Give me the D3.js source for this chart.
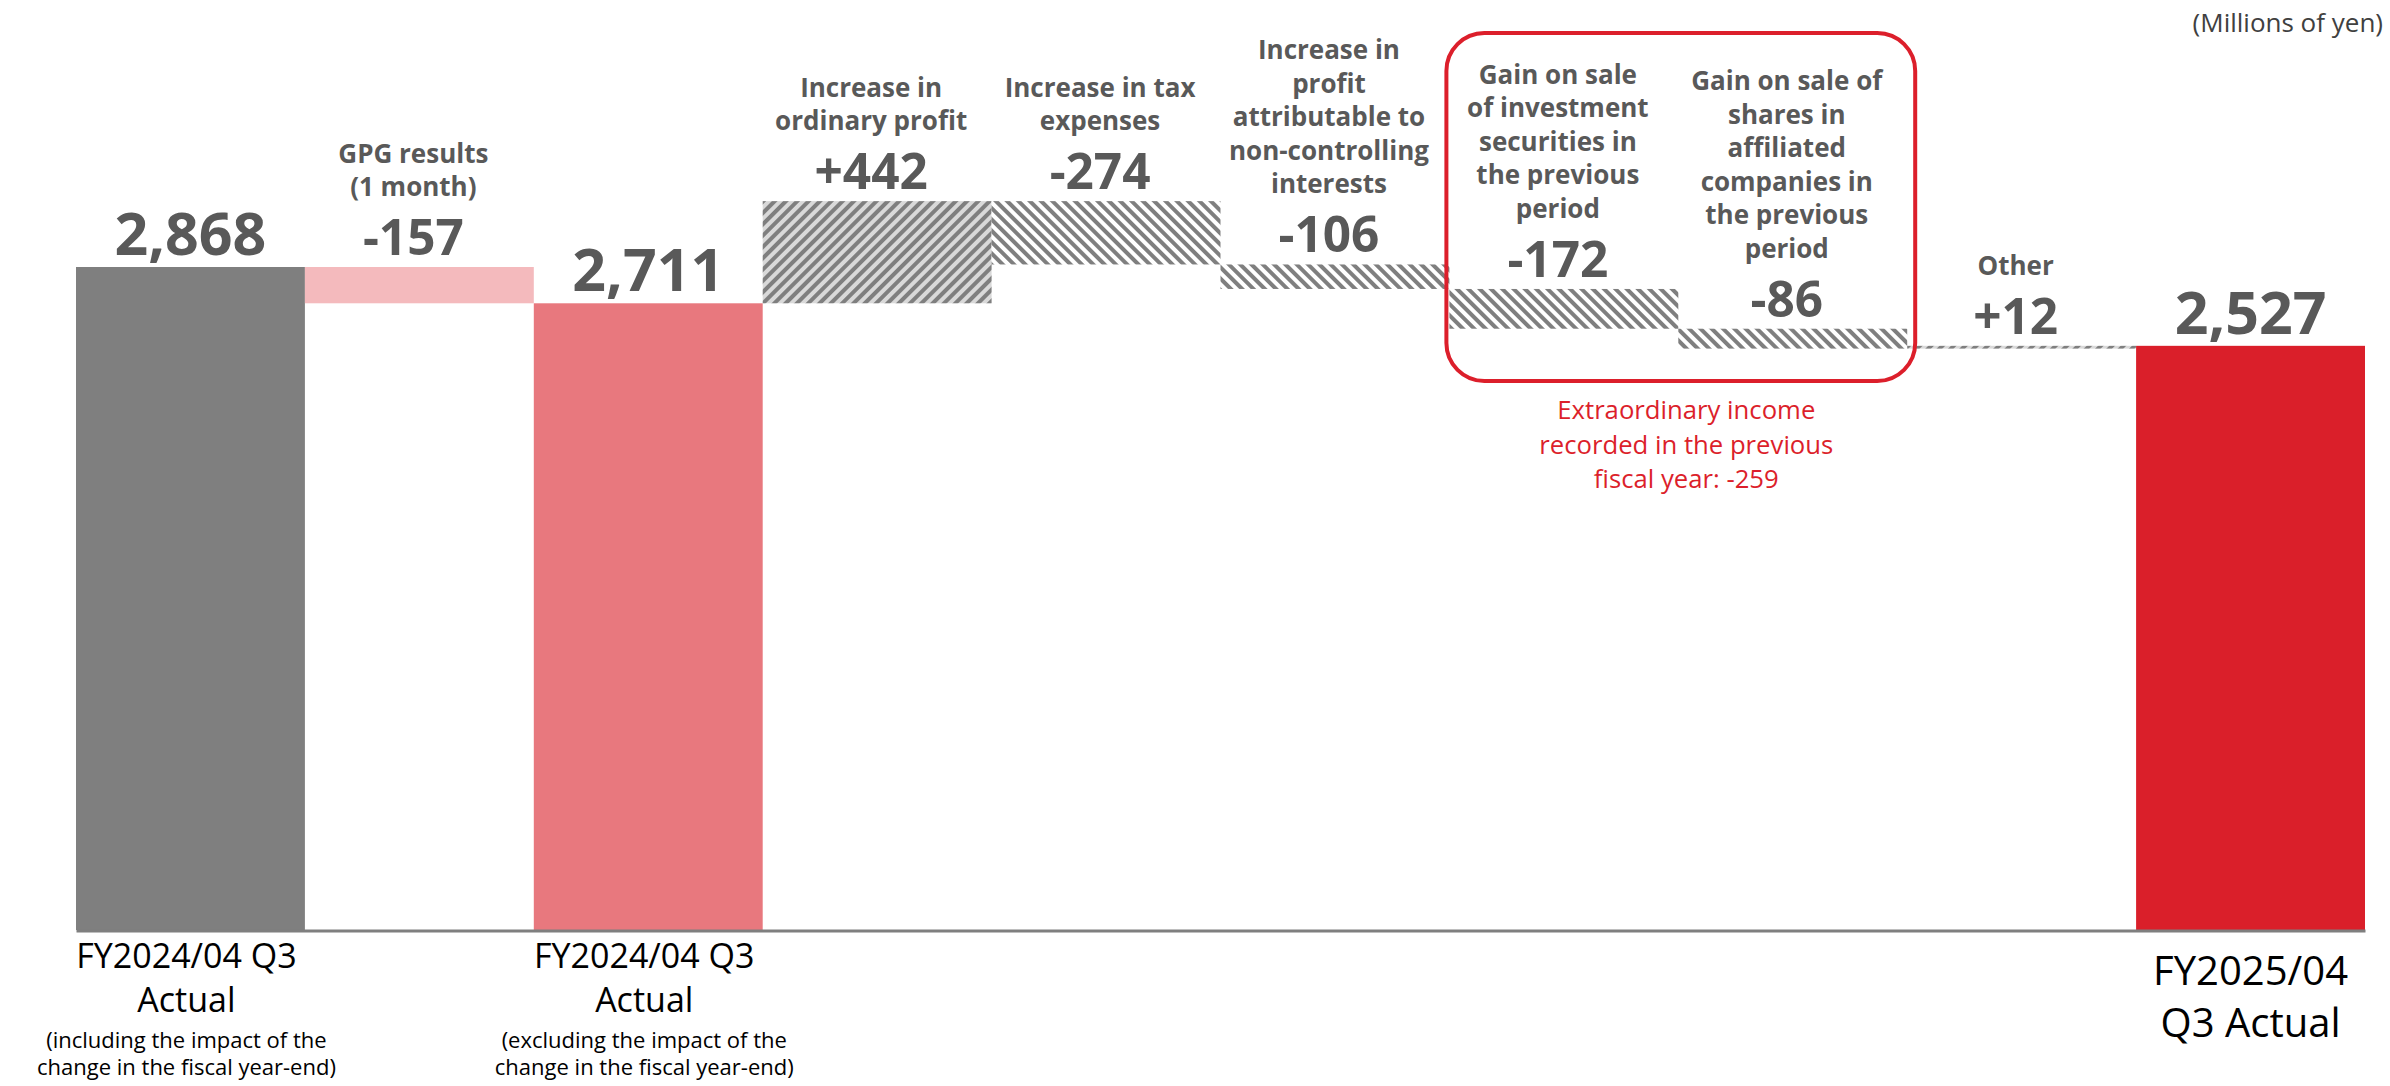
<!DOCTYPE html>
<html>
<head>
<meta charset="utf-8">
<script src="https://cdn.jsdelivr.net/npm/d3@7"></script>
<style>
  html, body { margin: 0; padding: 0; background: #ffffff; }
  svg { display: block; font-family: "Open Sans", "Noto Sans", sans-serif; }
</style>
</head>
<body>
<svg id="chart" width="2390" height="1086"></svg>
<script>
// ---------------- DATA ----------------
const barKinds = ["total", "delta", "total", "delta", "delta", "delta", "delta", "delta", "delta", "total"];
const barValues = [2868, -157, 2711, 442, -274, -106, -172, -86, 12, 2527];
const valueLabels = ["2,868", "-157", "2,711", "+442", "-274", "-106", "-172", "-86", "+12", "2,527"];
const headerLabels = [
  [],
  ["GPG results", "(1 month)"],
  [],
  ["Increase in", "ordinary profit"],
  ["Increase in tax", "expenses"],
  ["Increase in", "profit", "attributable to", "non-controlling", "interests"],
  ["Gain on sale", "of investment", "securities in", "the previous", "period"],
  ["Gain on sale of", "shares in", "affiliated", "companies in", "the previous", "period"],
  ["Other"],
  []
];
const axisLabels = [
  ["FY2024/04 Q3", "Actual", "(including the impact of the", "change in the fiscal year-end)"],
  [],
  ["FY2024/04 Q3", "Actual", "(excluding the impact of the", "change in the fiscal year-end)"],
  [], [], [], [], [], [],
  ["FY2025/04", "Q3 Actual"]
];
const unitLabel = "(Millions of yen)";
const noteLines = ["Extraordinary income", "recorded in the previous", "fiscal year: -259"];
const boxedColumns = [6, 7];

// ---------------- STYLES ----------------
const barFills = ["#7f7f7f", "#f4babd", "#e8787e", "url(#hatchPos)", "url(#hatchNeg)",
                  "url(#hatchNeg)", "url(#hatchNeg)", "url(#hatchNeg)", "url(#hatchPos)", "#da1f2a"];
const labelGray = "#595959";
const red = "#dc1f2b";

// ---------------- LAYOUT ----------------
const svg = d3.select("#chart");
svg.append("rect").attr("width", 2390).attr("height", 1086).attr("fill", "#fff");

const defs = svg.append("defs");
function hatch(id, angle, bg, fg) {
  const p = defs.append("pattern").attr("id", id)
    .attr("patternUnits", "userSpaceOnUse").attr("width", 8).attr("height", 8)
    .attr("patternTransform", `rotate(${angle})`);
  p.append("rect").attr("width", 8).attr("height", 8).attr("fill", bg);
  p.append("rect").attr("width", 4).attr("height", 8).attr("fill", fg);
}
hatch("hatchPos", 45, "#d9d9d9", "#7f7f7f");
hatch("hatchNeg", -45, "#ffffff", "#7f7f7f");

const baseY = 930;
const x = d3.scaleBand().domain(d3.range(barValues.length)).range([76, 2365]).padding(0);
const y = d3.scaleLinear().domain([0, 2868]).range([baseY, 267]);

// waterfall computation
let running = 0;
const bars = barValues.map((v, i) => {
  let start, end;
  if (barKinds[i] === "total") { start = 0; end = v; running = v; }
  else { start = running; end = running + v; running = end; }
  return { i, v, start, end };
});

// bars
svg.append("g").selectAll("rect").data(bars).join("rect")
  .attr("x", d => x(d.i))
  .attr("width", x.bandwidth())
  .attr("y", d => y(Math.max(d.start, d.end)))
  .attr("height", d => Math.abs(y(d.start) - y(d.end)))
  .attr("fill", d => barFills[d.i]);

// axis
const axisG = svg.append("g").attr("transform", `translate(0,${baseY + 0.5})`)
  .call(d3.axisBottom(x).tickSize(0).tickFormat(""));
axisG.select(".domain").attr("stroke", "#7f7f7f").attr("stroke-width", 3);

// value labels
const valueG = svg.append("g");
bars.forEach(d => {
  const top = y(Math.max(d.start, d.end));
  const isTotal = barKinds[d.i] === "total";
  const vb = top - 12;
  d.valueBaseline = vb;
  d.cx = x(d.i) + x.bandwidth() / 2 + (isTotal ? 0 : -6);
  valueG.append("text")
    .attr("x", d.cx)
    .attr("y", vb)
    .attr("text-anchor", "middle")
    .attr("font-weight", 700)
    .attr("font-size", isTotal ? 59 : 49.5)
    .attr("fill", labelGray)
    .text(valueLabels[d.i]);
});

// header labels
const headG = svg.append("g");
bars.forEach(d => {
  const lines = headerLabels[d.i];
  if (!lines.length) return;
  const lastBase = d.valueBaseline - 59;
  const t = headG.append("text")
    .attr("text-anchor", "middle")
    .attr("font-weight", 700)
    .attr("font-size", 26)
    .attr("fill", labelGray);
  lines.forEach((ln, k) => {
    t.append("tspan")
      .attr("x", d.cx)
      .attr("y", lastBase - (lines.length - 1 - k) * 33.5)
      .text(ln);
  });
});

// bottom category labels
const catG = svg.append("g");
axisLabels.forEach((lines, i) => {
  if (!lines.length) return;
  const cx = x(i) + x.bandwidth() / 2;
  const t = catG.append("text").attr("text-anchor", "middle").attr("fill", "#000");
  if (lines.length === 4) {
    const sizes = [34, 34, 22, 22];
    const ys = [968, 1012, 1048, 1075];
    lines.forEach((ln, k) => {
      t.append("tspan").attr("x", cx - 4).attr("y", ys[k]).attr("font-size", sizes[k]).text(ln);
    });
  } else {
    const ys = [985, 1037];
    lines.forEach((ln, k) => {
      t.append("tspan").attr("x", cx).attr("y", ys[k]).attr("font-size", 40).text(ln);
    });
  }
});

// red rounded box around extraordinary items
const bx0 = x(boxedColumns[0]);
const bx1 = x(boxedColumns[boxedColumns.length - 1]) + x.bandwidth();
svg.append("rect")
  .attr("x", bx0 - 3).attr("y", 33)
  .attr("width", bx1 - bx0 + 11).attr("height", 348)
  .attr("rx", 38).attr("ry", 38)
  .attr("fill", "none").attr("stroke", red).attr("stroke-width", 4);

const note = svg.append("text").attr("text-anchor", "middle")
  .attr("font-size", 25.7).attr("fill", red);
noteLines.forEach((ln, k) => {
  note.append("tspan").attr("x", (bx0 + bx1) / 2 + 8).attr("y", 419 + k * 34.5).text(ln);
});

// unit label
svg.append("text").attr("x", 2383).attr("y", 32).attr("text-anchor", "end")
  .attr("font-size", 26).attr("fill", "#404040").text(unitLabel);
</script>
</body>
</html>
